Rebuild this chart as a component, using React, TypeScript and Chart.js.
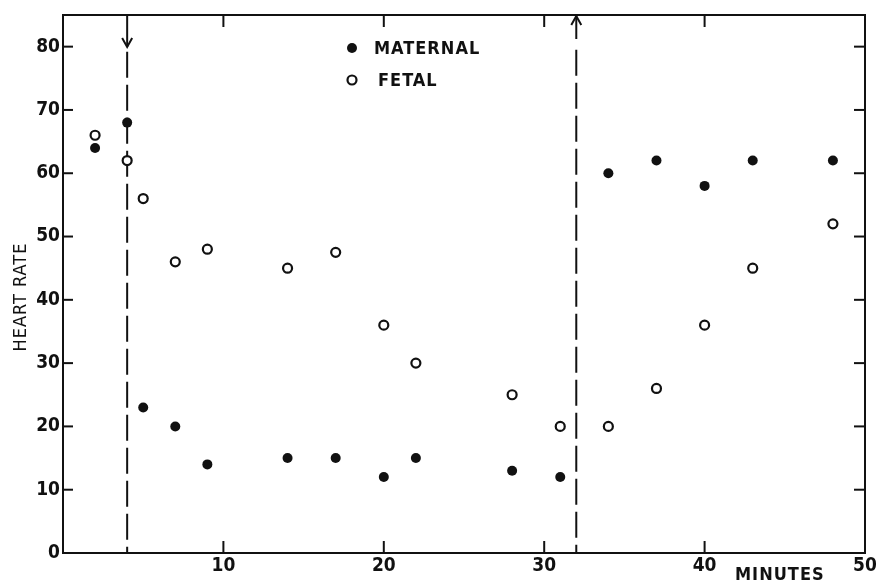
import React, { useEffect, useRef } from "react";
import { Chart, registerables } from "chart.js";

Chart.register(...registerables);

// ---- Data ----
const minutes: number[] = [2, 4, 5, 7, 9, 14, 17, 20, 22, 28, 31, 34, 37, 40, 43, 48];
const maternal: number[] = [64, 68, 23, 20, 14, 15, 15, 12, 15, 13, 12, 60, 62, 58, 62, 62];
const fetal: number[] = [66, 62, 56, 46, 48, 45, 47.5, 36, 30, 25, 20, 20, 26, 36, 45, 52];
const seriesLabels: string[] = ["MATERNAL", "FETAL"];
const xTicks: number[] = [10, 20, 30, 40, 50];
const yTicks: number[] = [0, 10, 20, 30, 40, 50, 60, 70, 80];
const markerStart = 4; // arrow down
const markerEnd = 32; // arrow up
const xTitle = "MINUTES";
const yTitle = "HEART RATE";

const FONT = '"Liberation Sans Narrow", "DejaVu Sans Condensed", "Roboto Condensed", "Liberation Sans", Arial, sans-serif';
const INK = "#111";

const decorPlugin = {
  id: "decor",
  afterDraw(chart: any) {
    const { ctx, chartArea: a, scales } = chart;
    const x = scales.x;
    const y = scales.y;
    const line = (x1: number, y1: number, x2: number, y2: number) => {
      ctx.beginPath();
      ctx.moveTo(x1, y1);
      ctx.lineTo(x2, y2);
      ctx.stroke();
    };
    ctx.save();
    ctx.strokeStyle = INK;
    ctx.lineWidth = 2;
    ctx.lineCap = "butt";
    // frame
    ctx.strokeRect(a.left, a.top, a.right - a.left, a.bottom - a.top);
    // inward ticks
    for (const v of xTicks) {
      if (v <= 0 || v >= 50) continue;
      const px = x.getPixelForValue(v);
      line(px, a.bottom, px, a.bottom - 12);
      line(px, a.top, px, a.top + 12);
    }
    for (const v of yTicks) {
      if (v <= 0) continue;
      const py = y.getPixelForValue(v);
      line(a.left, py, a.left + 10, py);
      line(a.right, py, a.right - 11, py);
    }
    // arrows
    const xs = x.getPixelForValue(markerStart);
    const tip1 = a.top + 32;
    line(xs, a.top, xs, tip1);
    ctx.beginPath();
    ctx.moveTo(xs - 5, tip1 - 9);
    ctx.lineTo(xs, tip1);
    ctx.lineTo(xs + 5, tip1 - 9);
    ctx.stroke();
    const xe = x.getPixelForValue(markerEnd);
    const tip2 = a.top + 1;
    line(xe, tip2, xe, a.top + 24);
    ctx.beginPath();
    ctx.moveTo(xe - 5, tip2 + 9);
    ctx.lineTo(xe, tip2);
    ctx.lineTo(xe + 5, tip2 + 9);
    ctx.stroke();

    // legend
    ctx.fillStyle = INK;
    ctx.font = `bold 18px ${FONT}`;
    (ctx as any).letterSpacing = "1px";
    ctx.textBaseline = "middle";
    ctx.textAlign = "left";
    const lx = 352;
    const ly1 = 48;
    const ly2 = 80;
    ctx.beginPath();
    ctx.arc(lx, ly1, 5, 0, Math.PI * 2);
    ctx.fill();
    ctx.fillText(seriesLabels[0], lx + 22, ly1 + 1);
    ctx.lineWidth = 2.2;
    ctx.beginPath();
    ctx.arc(lx, ly2, 4.5, 0, Math.PI * 2);
    ctx.stroke();
    ctx.fillText(seriesLabels[1], lx + 26, ly2 + 1);

    // axis titles
    ctx.font = `bold 18px ${FONT}`;
    ctx.fillText(xTitle, 735, 575);
    ctx.save();
    ctx.translate(20, 297);
    ctx.rotate(-Math.PI / 2);
    ctx.textAlign = "center";
    ctx.font = `18px ${FONT}`;
    ctx.fillText(yTitle, 0, 1);
    ctx.restore();
    ctx.restore();
  },
};

export default function App() {
  const ref = useRef<HTMLCanvasElement | null>(null);
  useEffect(() => {
    if (!ref.current) return;
    const chart = new Chart(ref.current, {
      type: "scatter",
      data: {
        datasets: [
          {
            label: seriesLabels[0],
            data: minutes.map((m, i) => ({ x: m, y: maternal[i] })),
            pointRadius: 5,
            pointBackgroundColor: INK,
            pointBorderWidth: 0,
            showLine: false,
          },
          {
            label: seriesLabels[1],
            data: minutes.map((m, i) => ({ x: m, y: fetal[i] })),
            pointRadius: 4.5,
            pointBackgroundColor: "#fff",
            pointBorderColor: INK,
            pointBorderWidth: 2.2,
            showLine: false,
          },
          {
            label: "start",
            data: [
              { x: markerStart, y: 79.2 },
              { x: markerStart, y: 0 },
            ],
            showLine: true,
            pointRadius: 0,
            borderColor: INK,
            borderWidth: 2,
            borderDash: [26, 7],
          } as any,
          {
            label: "end",
            data: [
              { x: markerEnd, y: 79.5 },
              { x: markerEnd, y: 0 },
            ],
            showLine: true,
            pointRadius: 0,
            borderColor: INK,
            borderWidth: 2,
            borderDash: [26, 7],
          } as any,
        ],
      },
      options: {
        animation: false,
        responsive: true,
        maintainAspectRatio: false,
        layout: { padding: { left: 0, top: 15, right: 11, bottom: 0 } },
        plugins: { legend: { display: false }, tooltip: { enabled: false } },
        scales: {
          x: {
            type: "linear",
            min: 0,
            max: 50,
            afterBuildTicks: (s: any) => {
              s.ticks = xTicks.map((v) => ({ value: v }));
            },
            afterFit: (s: any) => {
              s.height = 31;
              s.paddingLeft = 0;
              s.paddingRight = 0;
            },
            ticks: {
              color: INK,
              padding: 2,
              font: { family: FONT, size: 19, weight: "bold" },
              maxRotation: 0,
            },
            grid: { display: true, drawOnChartArea: false, drawTicks: false },
            border: { display: false },
          },
          y: {
            type: "linear",
            min: 0,
            max: 85,
            afterBuildTicks: (s: any) => {
              s.ticks = yTicks.map((v) => ({ value: v }));
            },
            afterFit: (s: any) => {
              s.width = 63;
              s.paddingTop = 0;
              s.paddingBottom = 0;
            },
            ticks: {
              color: INK,
              padding: 3,
              font: { family: FONT, size: 19, weight: "bold" },
            },
            grid: { display: true, drawOnChartArea: false, drawTicks: false },
            border: { display: false },
          },
        },
      },
      plugins: [decorPlugin],
    });
    return () => chart.destroy();
  }, []);
  return (
    <div style={{ position: "fixed", left: 0, top: 0, width: 876, height: 584, background: "#fff" }}>
      <canvas ref={ref} />
    </div>
  );
}
